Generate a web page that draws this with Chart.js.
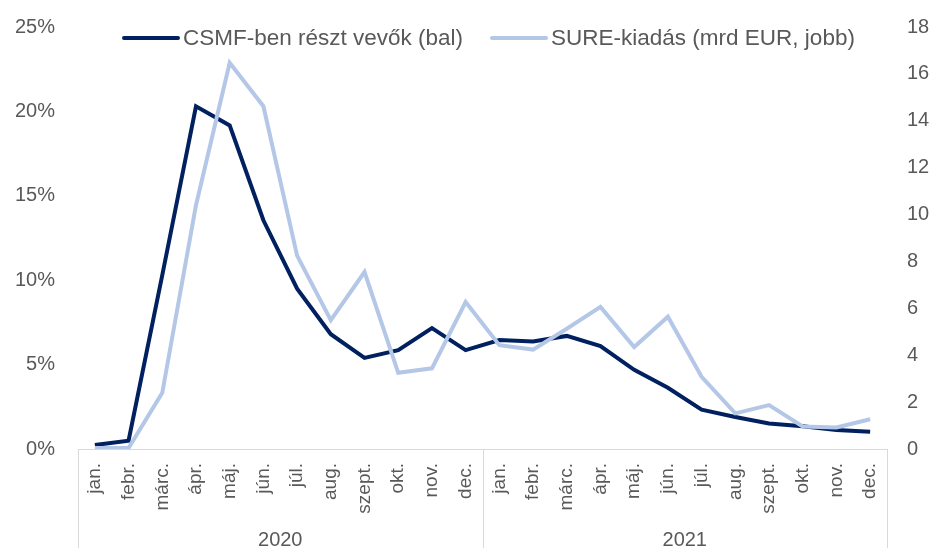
<!DOCTYPE html>
<html lang="hu">
<head>
<meta charset="utf-8">
<title>CSMF-ben részt vevők és SURE-kiadás</title>
<script src="https://cdn.jsdelivr.net/npm/chart.js@4/dist/chart.umd.min.js"></script>
<style>
  html, body { margin: 0; padding: 0; background: #fff; }
  #wrap { position: relative; width: 933px; height: 548px; }
  #legend {
    position: absolute; left: 122px; top: 25px;
    display: flex; align-items: center; gap: 27px;
    font: 22.5px "Liberation Sans", Arial, sans-serif; color: #595959;
    white-space: nowrap; line-height: 26px;
  }
  .item { display: flex; align-items: center; }
  .swatch { width: 58px; height: 4px; border-radius: 2px; margin-right: 3px; }
</style>
</head>
<body>
<div id="wrap">
  <canvas id="chart" width="933" height="548"></canvas>
  <div id="legend"></div>
</div>
<script>
// --- data ---
const months = ['jan.', 'febr.', 'márc.', 'ápr.', 'máj.', 'jún.', 'júl.', 'aug.', 'szept.', 'okt.', 'nov.', 'dec.'];
const years = ['2020', '2021'];
const categories = months.concat(months);

// CSMF-ben részt vevők aránya, % (bal tengely)
const csmfShare = [0.24, 0.49, 10.3, 20.3, 19.17, 13.55, 9.5, 6.8, 5.4, 5.86, 7.16, 5.86,
                   6.45, 6.37, 6.7, 6.1, 4.69, 3.63, 2.33, 1.9, 1.51, 1.35, 1.12, 1.02];
// SURE-kiadás, mrd EUR (jobb tengely)
const sureSpend = [0.04, 0.04, 2.4, 10.4, 16.47, 14.62, 8.25, 5.5, 7.55, 3.25, 3.44, 6.27,
                   4.43, 4.24, 5.13, 6.06, 4.35, 5.64, 3.08, 1.52, 1.87, 0.96, 0.92, 1.27];

const leftTicks = [0, 5, 10, 15, 20, 25];
const rightTicks = [0, 2, 4, 6, 8, 10, 12, 14, 16, 18];

const TEXT = '#595959';
const AXIS_LINE = '#d9d9d9';
const FONT = '"Liberation Sans", Arial, sans-serif';
const NO_GRID = { display: false, drawTicks: false };

// vertical lines of the year boxes under the x axis
const yearBoxes = {
  id: 'yearBoxes',
  afterDraw(chart) {
    const x2 = chart.scales.x2;
    const ctx = chart.ctx;
    const top = chart.chartArea.bottom;
    const edges = [x2.left];
    for (let i = 1; i < years.length; i++) {
      edges.push((x2.getPixelForTick(i - 1) + x2.getPixelForTick(i)) / 2);
    }
    edges.push(x2.right);
    ctx.save();
    ctx.strokeStyle = AXIS_LINE;
    ctx.lineWidth = 1;
    edges.forEach(x => {
      const px = Math.round(x) + 0.5;
      ctx.beginPath();
      ctx.moveTo(px, top);
      ctx.lineTo(px, chart.height);
      ctx.stroke();
    });
    ctx.restore();
  }
};

// fixed widths for the value axes; the label padding should not push the plot down
const fitValueAxis = width => s => {
  s.width = width;
  s.paddingTop = 0;
  s.paddingBottom = 0;
};

const chart = new Chart(document.getElementById('chart'), {
  type: 'line',
  data: {
    labels: categories,
    datasets: [
      {
        label: 'CSMF-ben részt vevők (bal)',
        data: csmfShare,
        yAxisID: 'y',
        borderColor: '#002060',
        borderWidth: 4,
        order: 1
      },
      {
        label: 'SURE-kiadás (mrd EUR, jobb)',
        data: sureSpend,
        yAxisID: 'y1',
        borderColor: '#b4c7e7',
        borderWidth: 4,
        order: 0
      }
    ]
  },
  options: {
    responsive: false,
    devicePixelRatio: 1,
    animation: false,
    elements: {
      point: { radius: 0, hoverRadius: 0 },
      line: { tension: 0, borderJoinStyle: 'miter', borderCapStyle: 'butt', fill: false }
    },
    layout: { padding: { top: 27, left: 0, right: 0, bottom: 0 } },
    plugins: { legend: { display: false }, tooltip: { enabled: false } },
    scales: {
      x: {
        type: 'category',
        offset: true,
        grid: NO_GRID,
        border: { display: true, color: AXIS_LINE, width: 1 },
        ticks: {
          autoSkip: false, minRotation: 90, maxRotation: 90, padding: 14,
          color: TEXT, font: { family: FONT, size: 19 }
        },
        afterFit: s => { s.height = 70; }
      },
      x2: {
        type: 'category',
        labels: years,
        position: 'bottom',
        offset: true,
        grid: NO_GRID,
        border: { display: false },
        ticks: { padding: 9, color: TEXT, font: { family: FONT, size: 20 } },
        afterFit: s => { s.height = 29; }
      },
      y: {
        position: 'left',
        min: leftTicks[0],
        max: leftTicks[leftTicks.length - 1],
        grid: NO_GRID,
        border: { display: false },
        afterBuildTicks: s => { s.ticks = leftTicks.map(v => ({ value: v })); },
        ticks: { padding: 23, color: TEXT, font: { family: FONT, size: 20 }, callback: v => v + '%' },
        afterFit: fitValueAxis(78)
      },
      y1: {
        position: 'right',
        min: rightTicks[0],
        max: rightTicks[rightTicks.length - 1],
        grid: NO_GRID,
        border: { display: false },
        afterBuildTicks: s => { s.ticks = rightTicks.map(v => ({ value: v })); },
        ticks: { padding: 20, color: TEXT, font: { family: FONT, size: 20 } },
        afterFit: fitValueAxis(46)
      }
    }
  },
  plugins: [yearBoxes]
});

// HTML legend laid over the top of the plot
const legend = document.getElementById('legend');
legend.innerHTML = chart.data.datasets.map(ds => `
  <div class="item">
    <span class="swatch" style="background:${ds.borderColor}"></span>
    <span>${ds.label}</span>
  </div>`).join('');
</script>
</body>
</html>
